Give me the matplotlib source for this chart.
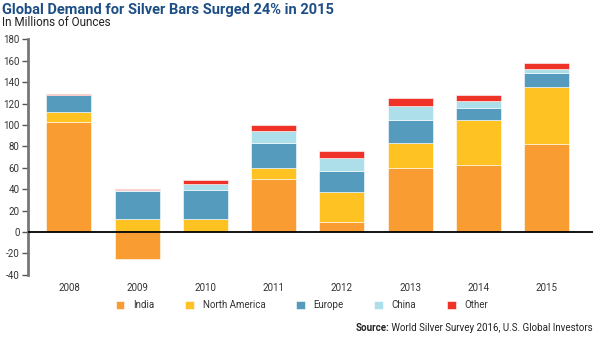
import numpy as np
import matplotlib
matplotlib.use('Agg')
import matplotlib.pyplot as plt

# Values (millions of ounces)
years = ['2008', '2009', '2010', '2011', '2012', '2013', '2014', '2015']
india = [103.0, -25.5, 0.0, 49.5, 9.7, 60.1, 62.6, 82.6]
north_america = [9.5, 11.8, 11.8, 10.3, 27.7, 23.1, 42.4, 52.9]
europe = [15.2, 26.8, 27.1, 23.7, 19.3, 21.8, 11.2, 13.1]
china = [0.3, 1.0, 6.3, 11.2, 12.8, 12.4, 5.9, 3.4]
other = [1.0, 0.6, 3.1, 5.3, 5.9, 7.8, 6.2, 6.3]

series = [('India', india, '#f99d33'),
          ('North America', north_america, '#fec222'),
          ('Europe', europe, '#559bbe'),
          ('China', china, '#addfea'),
          ('Other', other, '#ef3328')]

plt.rcParams['font.family'] = ['Roboto', 'DejaVu Sans']
plt.rcParams['axes.unicode_minus'] = False

fig = plt.figure(figsize=(6, 3.4), dpi=100)
ax = fig.add_axes([28/600, 1-274.8/340, (593-28)/600, (274.8-39.3)/340])

x = np.arange(len(years))
pos_base = np.zeros(len(years))
neg_base = np.zeros(len(years))
handles = []
for name, vals, color in series:
    vals = np.array(vals)
    base = np.where(vals >= 0, pos_base, neg_base)
    b = ax.bar(x, vals, bottom=base, width=0.66, color=color,
               edgecolor='white', linewidth=0.4, label=name)
    handles.append(b)
    pos_base += np.where(vals >= 0, vals, 0)
    neg_base += np.where(vals < 0, vals, 0)

ax.axhline(0, color='black', lw=1.3, zorder=5)
ax.set_xlim(-0.6, 7.68)
ax.set_ylim(-40, 180)
ax.set_yticks(np.arange(-40, 181, 20))
ax.tick_params(axis='y', length=4, width=1, color='#555555', labelsize=7, pad=2, labelcolor='#333333')
ax.set_xticks(x)
ax.set_xticklabels(years)
ax.tick_params(axis='x', length=0, labelsize=7, pad=6, labelcolor='#333333')
for s in ['top', 'right', 'bottom']:
    ax.spines[s].set_visible(False)
ax.spines['left'].set_color('#777777')
ax.spines['left'].set_linewidth(2)

fig.text(2/600, 1-10/340, 'Global Demand for Silver Bars Surged 24% in 2015',
         fontsize=10.5, fontweight='bold', color='#1d4f86', va='center', ha='left')
fig.text(2/600, 1-23/340, 'In Millions of Ounces', fontsize=8.5,
         color='#222222', va='center', ha='left')

fig.legend(handles=handles, loc='center', bbox_to_anchor=(302/600, 1-305/340),
           ncol=5, frameon=False, fontsize=7, handlelength=0.9, handleheight=0.9,
           handletextpad=0.9, columnspacing=3.15, labelcolor='#333333')

src = fig.text(593/600, 1-328/340, ' World Silver Survey 2016, U.S. Global Investors',
               fontsize=7, color='#222222', ha='right', va='center')
fig.canvas.draw()
bb = src.get_window_extent(renderer=fig.canvas.get_renderer())
fig.text(bb.x0/fig.bbox.width, 1-328/340, 'Source:', fontsize=7, fontweight='bold',
         color='#222222', ha='right', va='center')

fig.savefig('out.png', dpi=100)
